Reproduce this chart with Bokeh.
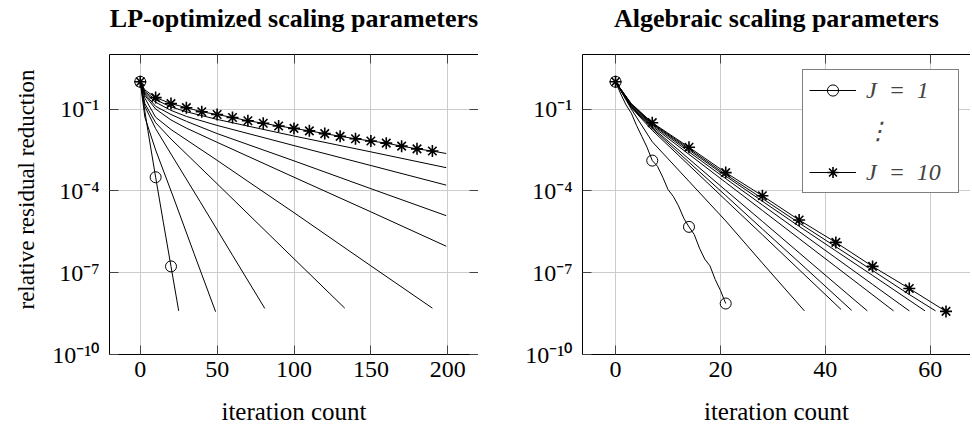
from bokeh.plotting import figure
from bokeh.models import (FixedTicker, CustomJSTickFormatter, LinearAxis, LogAxis,
                          Legend, LegendItem, Range1d, ColumnDataSource, Title)
from bokeh.layouts import row
from bokeh.embed import file_html
from bokeh.resources import INLINE

# ---------------- data: LP-optimized scaling parameters (exponents of 10) -------------
lp_j1_it = [0, 5, 10, 15, 20, 25]
lp_j1_exp = [0, -1.8, -3.5, -5.15, -6.77, -8.4]
lp_j2_it = [0, 3, 10, 22, 35, 49]
lp_j2_exp = [0, -1.3, -2.5, -4.3, -6.3, -8.43]
lp_j3_it = [0, 3, 10, 20, 39, 60, 81]
lp_j3_exp = [0, -0.9, -1.72, -2.65, -4.4, -6.36, -8.31]
lp_j4_it = [0, 3, 10, 20, 48, 100, 133]
lp_j4_exp = [0, -0.8, -1.5, -2.1, -3.63, -6.49, -8.3]
lp_j5_it = [0, 3, 10, 20, 50, 70, 100, 150, 190]
lp_j5_exp = [0, -0.6, -1.3, -1.75, -2.88, -3.65, -4.8, -6.75, -8.3]
lp_j6_it = [0, 3, 10, 20, 30, 50, 100, 150, 199]
lp_j6_exp = [0, -0.5, -1.0, -1.4, -1.7, -2.22, -3.5, -4.77, -6.03]
lp_j7_it = [0, 3, 10, 20, 30, 50, 100, 150, 199]
lp_j7_exp = [0, -0.45, -0.9, -1.2, -1.45, -1.9, -2.9, -3.92, -4.91]
lp_j8_it = [0, 3, 10, 20, 30, 50, 100, 150, 199]
lp_j8_exp = [0, -0.4, -0.75, -1.05, -1.27, -1.6, -2.34, -3.07, -3.79]
lp_j9_it = [0, 3, 10, 20, 30, 50, 100, 150, 199]
lp_j9_exp = [0, -0.36, -0.66, -0.92, -1.1, -1.38, -1.99, -2.57, -3.15]
lp_j10_it = [0, 3, 10, 20, 30, 40, 50, 60, 70, 80, 90, 100, 110, 120, 130, 140,
             150, 160, 170, 180, 190, 199]
lp_j10_exp = [0, -0.3, -0.58, -0.80, -0.95, -1.10, -1.20, -1.31, -1.43, -1.52, -1.62,
              -1.71, -1.80, -1.90, -2.00, -2.09, -2.17, -2.25, -2.36, -2.46, -2.54, -2.63]

# ---------------- data: algebraic scaling parameters (exponents of 10) ----------------
al_j1_it = list(range(0, 22))
al_j1_exp = [0, -0.45, -0.85, -1.15, -1.6, -2.0, -2.4, -2.89, -3.1, -3.5, -3.95,
             -4.2, -4.55, -5.0, -5.32, -5.6, -6.1, -6.5, -6.75, -7.25, -7.65, -8.13]
al_j2_it = [0, 3, 7, 14, 21, 28, 36]
al_j2_exp = [0, -1.0, -2.2, -3.65, -5.1, -6.65, -8.4]
al_j3_it = [0, 3, 7, 14, 21, 28, 35, 43]
al_j3_exp = [0, -0.95, -1.78, -3.06, -4.34, -5.61, -6.89, -8.35]
al_j4_it = [0, 3, 7, 14, 21, 28, 35, 45]
al_j4_exp = [0, -0.93, -1.72, -2.95, -4.17, -5.4, -6.62, -8.38]
al_j5_it = [0, 3, 7, 14, 21, 28, 35, 42, 48]
al_j5_exp = [0, -0.9, -1.68, -2.83, -3.98, -5.12, -6.27, -7.42, -8.4]
al_j6_it = [0, 3, 7, 14, 21, 28, 35, 42, 53]
al_j6_exp = [0, -0.88, -1.63, -2.66, -3.69, -4.72, -5.75, -6.78, -8.4]
al_j7_it = [0, 3, 7, 14, 21, 28, 35, 42, 49, 56]
al_j7_exp = [0, -0.85, -1.58, -2.57, -3.55, -4.52, -5.49, -6.46, -7.43, -8.4]
al_j8_it = [0, 3, 7, 14, 21, 28, 35, 42, 49, 59]
al_j8_exp = [0, -0.83, -1.55, -2.5, -3.46, -4.38, -5.3, -6.2, -7.1, -8.4]
al_j9_it = [0, 3, 7, 14, 21, 28, 35, 42, 49, 56, 61]
al_j9_exp = [0, -0.82, -1.52, -2.45, -3.4, -4.28, -5.18, -6.05, -6.92, -7.8, -8.4]
al_j10_it = [0, 3, 7, 14, 21, 28, 35, 42, 49, 56, 63]
al_j10_exp = [0, -0.8, -1.5, -2.4, -3.33, -4.18, -5.07, -5.89, -6.77, -7.58, -8.42]

lp_xticks = [0, 50, 100, 150, 200]
al_xticks = [0, 20, 40, 60]
yticks = [1e-10, 1e-7, 1e-4, 1e-1]

lp_series = [(lp_j1_it, lp_j1_exp), (lp_j2_it, lp_j2_exp), (lp_j3_it, lp_j3_exp),
             (lp_j4_it, lp_j4_exp), (lp_j5_it, lp_j5_exp), (lp_j6_it, lp_j6_exp),
             (lp_j7_it, lp_j7_exp), (lp_j8_it, lp_j8_exp), (lp_j9_it, lp_j9_exp),
             (lp_j10_it, lp_j10_exp)]
al_series = [(al_j1_it, al_j1_exp), (al_j2_it, al_j2_exp), (al_j3_it, al_j3_exp),
             (al_j4_it, al_j4_exp), (al_j5_it, al_j5_exp), (al_j6_it, al_j6_exp),
             (al_j7_it, al_j7_exp), (al_j8_it, al_j8_exp), (al_j9_it, al_j9_exp),
             (al_j10_it, al_j10_exp)]

FONT = "Liberation Serif"
SUP_JS = """
const e = Math.round(Math.log10(tick));
const m = {"-":"\u207b","0":"\u2070","1":"\u00b9","2":"\u00b2","3":"\u00b3","4":"\u2074",
           "5":"\u2075","6":"\u2076","7":"\u2077","8":"\u2078","9":"\u2079"};
return "10" + String(e).split("").map(c => m[c]).join("");
"""
TICK_COLOR = "#444444"
GRID_COLOR = "#cccccc"


def make_fig(title, xr, xticks, fw, left, ylabel, right_axis):
    p = figure(frame_width=fw, frame_height=300, x_range=Range1d(*xr),
               y_range=Range1d(1e-10, 1e1), y_axis_type="log",
               output_backend="svg", toolbar_location=None,
               min_border_left=left, min_border_right=0, min_border_top=53,
               min_border_bottom=72, title=title)
    p.title.text_font = FONT
    p.title.text_font_style = "bold"
    p.title.text_font_size = "26px"
    p.title.text_color = "black"
    p.title.align = "center"
    p.title.standoff = 2
    p.background_fill_color = "white"
    p.border_fill_color = "white"

    xa = p.xaxis[0]
    xa.ticker = FixedTicker(ticks=xticks)
    ya = p.yaxis[0]
    ya.ticker = FixedTicker(ticks=yticks)
    ya.formatter = CustomJSTickFormatter(code=SUP_JS)
    for ax in (xa, ya):
        ax.major_tick_in = 9
        ax.major_tick_out = 0
        ax.minor_tick_in = 0
        ax.minor_tick_out = 0
        ax.major_tick_line_color = TICK_COLOR
        ax.axis_line_color = "black"
        ax.major_label_text_font = FONT
        ax.major_label_text_font_size = "24px"
        ax.major_label_text_color = "black"
    xa.major_label_standoff = 7
    ya.major_label_standoff = 10
    xa.axis_label = "iteration count"
    xa.axis_label_standoff = 18
    xa.axis_label_text_font = FONT
    xa.axis_label_text_font_size = "25px"
    xa.axis_label_text_font_style = "normal"
    xa.axis_label_text_color = "black"
    if ylabel:
        yt = Title(text=ylabel, align="left", offset=45, standoff=22,
                   text_font=FONT, text_font_size="23px", text_font_style="normal",
                   text_color="black")
        p.add_layout(yt, "left")

    # tick marks on the top edge; an empty axis label keeps the title clear of the frame
    top = LinearAxis(ticker=FixedTicker(ticks=xticks),
                     major_tick_in=9, major_tick_out=0, minor_tick_in=0,
                     minor_tick_out=0, major_label_standoff=0,
                     major_label_text_font_size="1px", major_label_text_color=None,
                     axis_label="\u200b", axis_label_text_font_size="12px",
                     axis_label_standoff=4,
                     major_tick_line_color=TICK_COLOR, axis_line_color="black")
    p.add_layout(top, "above")
    if right_axis:
        rax = LogAxis(ticker=FixedTicker(ticks=yticks),
                      major_tick_in=9, major_tick_out=0, minor_tick_in=0,
                      minor_tick_out=0, major_label_standoff=0,
                      major_label_text_font_size="1px", major_label_text_color=None,
                      major_tick_line_color=TICK_COLOR, axis_line_color="black")
        p.add_layout(rax, "right")

    p.outline_line_color = None
    p.xgrid.ticker = FixedTicker(ticks=xticks)
    p.ygrid.ticker = FixedTicker(ticks=yticks)
    for g in (p.xgrid[0], p.ygrid[0]):
        g.grid_line_color = GRID_COLOR
        g.grid_line_width = 1
    return p


def draw(p, series, step):
    first = last = None
    for k, (it, ex) in enumerate(series):
        src = ColumnDataSource(dict(x=it, y=[10.0 ** e for e in ex]))
        ln = p.line("x", "y", source=src, line_color="black", line_width=1)
        if k == 0 or k == len(series) - 1:
            mx = [a for a in it if a % step == 0]
            my = [10.0 ** e for a, e in zip(it, ex) if a % step == 0]
            msrc = ColumnDataSource(dict(x=mx, y=my))
            if k == 0:
                sc = p.scatter("x", "y", source=msrc, marker="circle", size=11,
                               fill_alpha=0, line_color="black", line_width=1)
                first = (ln, sc)
            else:
                sc = p.scatter("x", "y", source=msrc, marker="asterisk", size=12,
                               line_color="black", line_width=1.6)
                last = (ln, sc)
    return first, last


p1 = make_fig("LP-optimized scaling parameters", (-20, 220), lp_xticks, 369, 108,
              "relative residual reduction", True)
draw(p1, lp_series, 10)

p2 = make_fig("Algebraic scaling parameters", (-6.3, 67.67), al_xticks, 388, 104,
              None, False)
first, last = draw(p2, al_series, 7)
dummy = p2.line(x=[], y=[], line_alpha=0)

legend = Legend(items=[LegendItem(label="J\u2002=\u20021", renderers=list(first)),
                       LegendItem(label="\u22ee", renderers=[dummy]),
                       LegendItem(label="J\u2002=\u200210", renderers=list(last))],
                location=(220, 161), margin=0, padding=6, spacing=13,
                glyph_width=47, glyph_height=28, label_height=28, label_width=86,
                label_standoff=10, label_text_font=FONT, label_text_font_size="24px",
                label_text_font_style="italic", border_line_color="black",
                border_line_width=1, background_fill_alpha=1)
p2.add_layout(legend)

layout = row(p1, p2)
open("out.html", "w").write(file_html(layout, INLINE))
